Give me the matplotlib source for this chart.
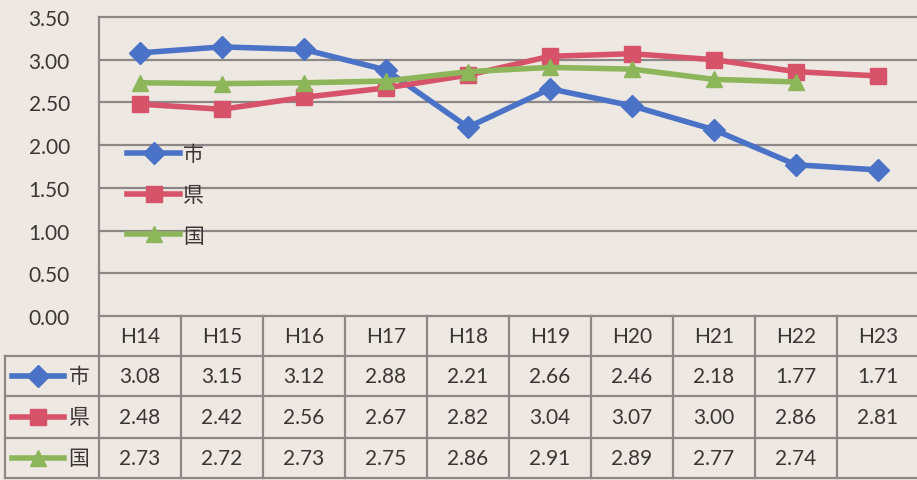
import matplotlib
matplotlib.use("Agg")
import matplotlib.pyplot as plt
from matplotlib.lines import Line2D
from matplotlib.transforms import blended_transform_factory

categories = ["H14", "H15", "H16", "H17", "H18", "H19", "H20", "H21", "H22", "H23"]
city = [3.08, 3.15, 3.12, 2.88, 2.21, 2.66, 2.46, 2.18, 1.77, 1.71]
pref = [2.48, 2.42, 2.56, 2.67, 2.82, 3.04, 3.07, 3.00, 2.86, 2.81]
nation = [2.73, 2.72, 2.73, 2.75, 2.86, 2.91, 2.89, 2.77, 2.74, None]
series_names = ["市", "県", "国"]
yticks = [0.0, 0.5, 1.0, 1.5, 2.0, 2.5, 3.0, 3.5]

plt.rcParams['font.family'] = ['Lato', 'Noto Sans CJK JP', 'DejaVu Sans']

BG = "#eee8e2"
GRID = "#8d8787"
TXT = "#3a3636"
colors = ["#4a72c6", "#d6536a", "#8db65a"]
markers = ["D", "s", "^"]
msizes = [11, 11, 12]
LW = 4.0
FS = 15

W, H = 917, 481
fig = plt.figure(figsize=(W / 100, H / 100), dpi=100, facecolor=BG)

def fx(px):
    return px / W

def fy(py):
    return 1 - py / H

ax_left, ax_right = 99, 919
ax_top, ax_bot = 18, 317
ax = fig.add_axes([fx(ax_left), fy(ax_bot), (ax_right - ax_left) / W, (ax_bot - ax_top) / H])
ax.set_facecolor("none")
ax.set_xlim(-0.5, len(categories) - 0.5)
ax.set_ylim(0, 3.5)
for s in ["top", "right", "bottom"]:
    ax.spines[s].set_visible(False)
ax.spines["left"].set_color(GRID)
ax.spines["left"].set_linewidth(1.6)
ax.set_yticks(yticks)
ax.set_yticklabels([f"{v:.2f}" for v in yticks])
ax.tick_params(axis="y", length=0, pad=21, labelsize=FS, labelcolor=TXT)
ax.set_xticks([])
for v in yticks:
    ax.axhline(v, color=GRID, lw=1.6, zorder=1, clip_on=False)

all_series = [city, pref, nation]
xs = list(range(len(categories)))
handles = []
for vals, c, m, ms, name in zip(all_series, colors, markers, msizes, series_names):
    px = [x for x, v in zip(xs, vals) if v is not None]
    py = [v for v in vals if v is not None]
    ln, = ax.plot(px, py, color=c, lw=LW, marker=m, markersize=ms, zorder=3,
                  label=name, clip_on=False)
    handles.append(ln)

leg = ax.legend(handles=handles, loc="upper left",
                frameon=False, fontsize=FS, handlelength=2.55, handletextpad=0.15,
                labelspacing=1.0, borderaxespad=0.0, borderpad=0.0)
leg.set_bbox_to_anchor((fx(127), fy(145)), transform=fig.transFigure)
for t in leg.get_texts():
    t.set_color(TXT)

# data table
tr = blended_transform_factory(ax.transData, fig.transFigure)
row_tops = [317, 357, 397, 439, 479]
n = len(categories)
for i in range(n + 1):
    ax.add_line(Line2D([i - 0.5, i - 0.5], [fy(row_tops[0]), fy(row_tops[-1])],
                       transform=tr, color=GRID, lw=1.6, clip_on=False))
for py in row_tops[1:]:
    fig.add_artist(Line2D([fx(5), 1.0], [fy(py), fy(py)], color=GRID, lw=1.6))
fig.add_artist(Line2D([fx(5), fx(5)], [fy(row_tops[1]), fy(row_tops[-1])], color=GRID, lw=1.6))

for i, cat in enumerate(categories):
    ax.text(i, fy((row_tops[0] + row_tops[1]) / 2), cat, transform=tr, ha="center",
            va="center", fontsize=FS, color=TXT)
for r, vals in enumerate(all_series):
    yc = fy((row_tops[r + 1] + row_tops[r + 2]) / 2)
    for i, v in enumerate(vals):
        if v is not None:
            ax.text(i, yc, f"{v:.2f}", transform=tr, ha="center", va="center",
                    fontsize=FS, color=TXT)
    fig.add_artist(Line2D([fx(12), fx(64)], [yc, yc], color=colors[r], lw=LW))
    fig.add_artist(Line2D([fx(38)], [yc], color=colors[r], marker=markers[r],
                          markersize=msizes[r], linestyle="none"))
    fig.text(fx(79), yc, series_names[r], ha="center", va="center", fontsize=FS, color=TXT)

fig.savefig("out.png", dpi=100, facecolor=BG)
